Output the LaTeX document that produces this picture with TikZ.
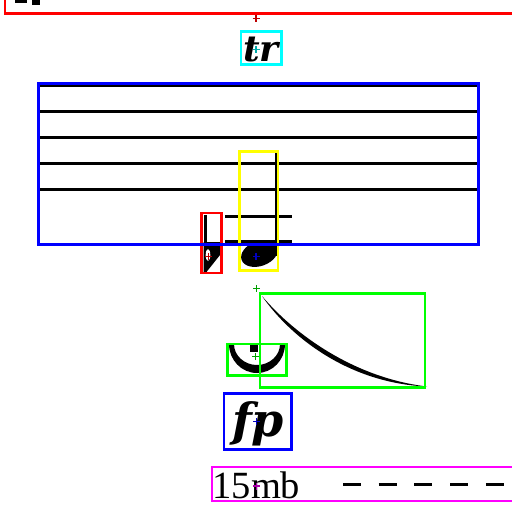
\documentclass[tikz,border=0pt]{standalone}
\usepackage{fontspec}
\newfontfamily\timesf{Liberation Serif}
\newfontfamily\dynf{DejaVu Serif}
\definecolor{pRed}{RGB}{255,0,0}
\definecolor{pCyan}{RGB}{0,255,255}
\definecolor{pBlue}{RGB}{0,0,255}
\definecolor{pYellow}{RGB}{255,255,0}
\definecolor{pGreen}{RGB}{0,255,0}
\definecolor{pMag}{RGB}{255,0,255}
\definecolor{mRed}{RGB}{190,0,0}
\definecolor{mCyan}{RGB}{0,170,170}
\definecolor{mBlue}{RGB}{0,0,190}
\definecolor{mGreen}{RGB}{0,160,0}
\definecolor{mMag}{RGB}{170,0,170}
\begin{document}
\begin{tikzpicture}[x=1pt,y=-1pt,
  bbox/.style={line width=2.8pt},
  staffline/.style={line width=3pt,black},
  mk/.style={line width=1.5pt},
  glyph/.style={inner sep=0pt,outer sep=0pt,anchor=base}]
\useasboundingbox (0,0) rectangle (512,512);
% top glyph fragment
\fill (15,-2) rectangle (27,3);
\fill (32,-2) rectangle (40,5);
% staff
\foreach \yy in {85,111.2,137.4,163.6,189.8}
  \draw[staffline] (40,\yy) -- (477,\yy);
% ledger lines
\draw[staffline] (225,216) -- (292,216);
\draw[staffline] (225,241.8) -- (292,241.8);
% stem and notehead
\fill (274.5,152) rectangle (278,256);
\fill[rotate around={20:(259.5,253.5)}] (259.5,253.5) ellipse [x radius=19, y radius=12.5];
% flat
\fill (203.5,215) rectangle (206.8,272);
\fill (203.5,242) -- (220,242) -- (220,255) -- (206.5,272) -- (203.5,272) -- cycle;
\fill[white] (208,255) ellipse [x radius=2.3, y radius=6];
% tie
\fill (262,296) .. controls (295,335) and (355,378) .. (427,386.5)
   .. controls (352,383.5) and (292.5,340) .. (262,296) -- cycle;
% fermata
\fill (229,344) arc[start angle=180, end angle=0, x radius=28, y radius=29]
   -- (280,344) arc[start angle=0, end angle=180, x radius=23, y radius=21] -- cycle;
\fill (250,345) rectangle (258,352);
% texts
\node[glyph] (tr) at (261,61.5) {\fontsize{36}{36}\selectfont\dynf\bfseries\itshape tr};
\node[glyph] (fp) at (258,436) {\fontsize{46}{46}\selectfont\dynf\bfseries\itshape fp};
\node[glyph,anchor=base west] (mb) at (212.5,498) {\fontsize{38.5}{38.5}\selectfont\timesf 15mb};
\draw[line width=2.5pt,dash pattern=on 18pt off 17.7pt] (343,484.5) -- (515,484.5);
% boxes
\draw[bbox,pRed] (5,-10) rectangle (520,13.2);
\draw[bbox,pCyan] (241,31.5) rectangle (281.5,64.5);
\draw[bbox,pYellow] (239.5,151.5) rectangle (278,270.5);
\draw[bbox,pRed] (201.5,213) rectangle (221.5,273);
\draw[bbox,pBlue] (38.7,83.5) rectangle (478.3,244.7);
\draw[bbox,pGreen] (260,293.3) rectangle (425,387.3);
\draw[bbox,pGreen] (227.5,344) rectangle (286.5,375.5);
\draw[bbox,pBlue] (224,393.3) rectangle (291.5,449.3);
\draw[bbox,pMag] (212,467) rectangle (520,501);
% markers
\foreach \px/\py/\c in {256/18.3/mRed,256/49.5/mCyan,256/256.5/mBlue,208.3/256.7/mRed,256.7/288.3/mGreen,255.5/356.7/mGreen,256.7/421.7/mBlue,256.7/486/mMag}
  \draw[mk,\c] (\px-3.5,\py) -- (\px+3.5,\py) (\px,\py-3.5) -- (\px,\py+3.5);
\end{tikzpicture}
\end{document}
